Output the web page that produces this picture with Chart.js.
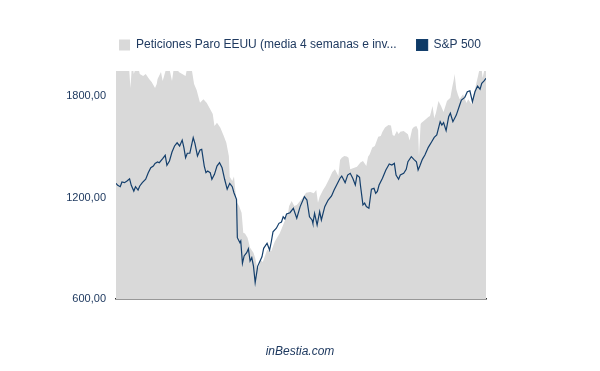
<!DOCTYPE html>
<html><head><meta charset="utf-8">
<script src="https://cdn.jsdelivr.net/npm/chart.js@4.4.0/dist/chart.umd.min.js"></script>
<style>html,body{margin:0;padding:0;background:#fff;}canvas{display:block;}</style>
</head><body>
<canvas id="c" width="600" height="371"></canvas>
<script>
const seriesNames = ['Peticiones Paro EEUU (media 4 semanas e inv...', 'S&P 500'];

// week index (0 = first week shown) and value, inverted claims series
const claimsWeeks = [0,15,17,19,21,25,28,32,35,39,42,46,48,49,53,55,58,61,64,66,69,74,78,82,85,88,92,95,99,103,107,111,114,116,119,123,127,130,133,134,137,139,142,145,148,150,152,155,158,162,164,166,168,170,173,178,183,187,191,193,198,203,204,207,210,213,220,224,229,233,236,238,240,244,247,251,255,258,262,264,266,269,272,274,276,280,284,288,291,295,297,299,302,305,309,312,314,317,321,324,326,328,331,333,335,339,342,344,346,349,351,354,356,357,359,360,364,368,370,373,375,377,380,383,386,390,394,396,398,399,401,403,405,409,413,415,419,421,423,427,430,432,436];
const claimsValues = [2000,2000,1849,2000,1932,2000,1932,1920,1932,1903,1885,1849,1873,1903,1944,1891,1944,2000,1938,1891,2000,1944,1932,1920,2000,2000,1873,1837,1762,1782,1761,1723,1695,1624,1644,1614,1565,1525,1447,1324,1299,1325,1176,1151,1111,993,988,963,904,874,843,795,784,835,819,890,884,939,973,989,1052,1117,1151,1180,1151,1157,1200,1229,1234,1226,1245,1170,1206,1245,1269,1309,1352,1368,1328,1423,1437,1447,1444,1437,1368,1376,1383,1408,1417,1387,1443,1457,1497,1506,1561,1565,1591,1615,1630,1628,1571,1565,1595,1577,1591,1595,1583,1575,1538,1607,1618,1624,1601,1447,1636,1644,1660,1678,1684,1743,1672,1701,1772,1743,1707,1772,1792,1849,1897,1932,1842,1808,1782,1812,1761,1782,1753,1808,1842,1930,2000,1909,2000];

const spWeeks = [0,2,5,7,10,13,16,18,21,23,26,28,31,35,38,41,44,46,49,51,55,58,60,63,66,69,72,75,78,80,82,84,87,91,93,96,99,101,104,106,108,111,113,116,119,122,125,128,131,134,137,139,142,143,146,147,149,151,154,156,158,160,162,164,167,172,174,178,181,183,185,189,192,195,197,199,201,205,209,213,217,222,225,228,231,232,234,237,240,242,246,250,254,257,260,264,266,270,273,276,279,282,284,287,288,291,293,295,298,301,304,306,308,310,314,318,322,325,328,330,333,335,339,342,344,348,351,354,356,358,361,364,368,372,375,378,382,384,386,389,392,394,397,401,405,407,411,414,417,420,423,426,429,431,434,436];
const spValues = [1285,1273,1265,1293,1289,1299,1312,1273,1239,1265,1245,1269,1289,1309,1348,1377,1387,1403,1411,1407,1431,1451,1392,1417,1470,1506,1525,1506,1541,1496,1437,1463,1463,1555,1522,1447,1482,1486,1387,1348,1358,1348,1309,1338,1387,1407,1377,1309,1250,1285,1265,1229,1190,963,933,943,811,855,874,898,825,845,795,697,795,850,900,930,890,939,998,1019,1048,1056,1087,1074,1103,1111,1137,1078,1147,1206,1186,1087,1068,1048,1107,1038,1117,1068,1147,1186,1210,1245,1275,1315,1328,1289,1334,1344,1315,1275,1334,1321,1275,1157,1168,1147,1137,1250,1255,1226,1237,1275,1315,1364,1399,1393,1403,1334,1309,1334,1344,1368,1413,1443,1427,1413,1364,1387,1427,1453,1498,1531,1557,1571,1650,1630,1644,1597,1679,1700,1650,1689,1749,1778,1794,1827,1833,1768,1827,1861,1842,1877,1893,1907];

const yTicks = [600, 1200, 1800];
const footerText = 'inBestia.com';

const TEXT = '#1f3a60';
Chart.defaults.font.family = '"Liberation Sans", Arial, sans-serif';
Chart.defaults.font.size = 11;
Chart.defaults.color = TEXT;

new Chart(document.getElementById('c'), {
  type: 'line',
  data: {
    datasets: [
      {
        label: seriesNames[0],
        data: claimsWeeks.map((w, i) => ({ x: w, y: claimsValues[i] })),
        backgroundColor: '#d9d9d9',
        borderColor: '#d9d9d9',
        borderWidth: 0,
        fill: 'start',
        pointRadius: 0,
        tension: 0
      },
      {
        label: seriesNames[1],
        data: spWeeks.map((w, i) => ({ x: w, y: spValues[i] })),
        borderColor: '#143f6c',
        backgroundColor: '#0e3a66',
        borderWidth: 1.2,
        fill: false,
        pointRadius: 0,
        tension: 0
      }
    ]
  },
  options: {
    responsive: false,
    animation: false,
    devicePixelRatio: 1,
    layout: { padding: { top: 19, left: 0, right: 0, bottom: 0 } },
    scales: {
      x: {
        type: 'linear', min: 0, max: 436, position: 'bottom',
        grid: { display: false, drawTicks: false },
        border: { display: true, color: '#333333', width: 1.5 },
        ticks: { display: false },
        afterFit: s => { s.height = 0; }
      },
      xTop: {
        type: 'linear', min: 0, max: 436, position: 'top',
        grid: { display: false, drawTicks: false },
        border: { display: false },
        ticks: { display: false },
        afterFit: s => { s.height = 10; }
      },
      y: {
        type: 'linear', min: 600, max: 1950, position: 'left',
        grid: { display: false, drawTicks: false },
        border: { display: false },
        afterBuildTicks: s => { s.ticks = yTicks.map(v => ({ value: v })); },
        ticks: { padding: 10, color: TEXT, font: { size: 11 }, callback: v => Number(v).toFixed(2).replace('.', ',') },
        afterFit: s => { s.width = 116; }
      },
      yRight: {
        type: 'linear', min: 600, max: 1950, position: 'right',
        grid: { display: false, drawTicks: false },
        border: { display: false },
        ticks: { display: false },
        afterFit: s => { s.width = 114; }
      }
    },
    plugins: {
      legend: {
        display: true, position: 'top',
        labels: { boxWidth: 11, boxHeight: 11, padding: 20, color: TEXT, font: { size: 12 } }
      },
      title: {
        display: true, position: 'bottom', text: footerText, color: TEXT,
        font: { size: 12, style: 'italic', weight: 'normal' },
        padding: { top: 45, bottom: 12.6 }
      },
      tooltip: { enabled: false },
      filler: { drawTime: 'beforeDatasetsDraw' }
    }
  }
});
</script>
</body></html>
